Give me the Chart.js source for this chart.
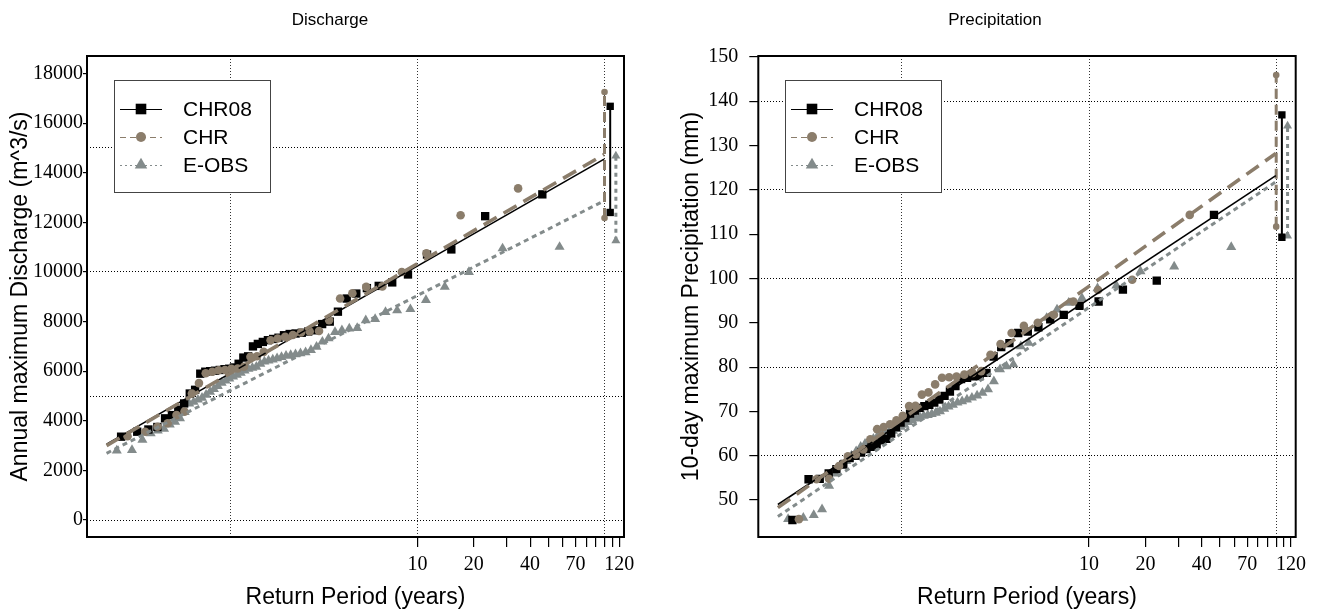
<!DOCTYPE html>
<html><head><meta charset="utf-8">
<script src="https://cdn.jsdelivr.net/npm/chart.js@4.4.0/dist/chart.umd.min.js"></script>
<style>
html,body{margin:0;padding:0;background:#fff;}
#wrap{position:relative;width:1320px;height:614px;overflow:hidden;}
.pane{position:absolute;top:0;width:660px;height:614px;}
</style></head><body>
<div id="wrap">
  <div class="pane" style="left:0"><canvas id="c1" width="660" height="614"></canvas></div>
  <div class="pane" style="left:660px"><canvas id="c2" width="660" height="614"></canvas></div>
</div>
<script>
// ---------- tick labels ----------
const returnPeriodTicks = [10, 20, 30, 40, 50, 60, 70, 80, 90, 100, 110, 120];
const returnPeriodTickLabels = ['10', '20', '', '40', '', '', '70', '', '', '', '', '120'];
const returnPeriodGridlines = [1, 10, 100];
const dischargeTicks = [0, 2000, 4000, 6000, 8000, 10000, 12000, 14000, 16000, 18000];
const dischargeGridlines = [0, 5000, 10000, 15000];
const precipTicks = [50, 60, 70, 80, 90, 100, 110, 120, 130, 140, 150];
const precipGridlines = [60, 80, 100, 120, 140];

// ---------- plotting positions (Gumbel reduced variate of each ranked year) ----------
const posCHR08 = [-1.3481,-1.1496,-1.0121,-0.9017,-0.8068,-0.7220,-0.6441,-0.5714,-0.5025,-0.4367,-0.3731,-0.3114,-0.2509,-0.1915,-0.1329,-0.0747,-0.0169,0.0410,0.0992,0.1573,0.2162,0.2756,0.3360,0.3973,0.4600,0.5241,0.5901,0.6578,0.7279,0.8007,0.8768,0.9560,1.0396,1.1276,1.2214,1.3220,1.4305,1.5483,1.6788,1.8245,1.9907,2.1848,2.4194,2.7187,3.1352,3.8393];
const posCHR = [-1.2684,-1.0516,-0.8989,-0.7743,-0.6657,-0.5673,-0.4759,-0.3893,-0.3061,-0.2254,-0.1463,-0.0681,0.0096,0.0874,0.1657,0.2449,0.3255,0.4080,0.4928,0.5805,0.6717,0.7672,0.8677,0.9747,1.0892,1.2131,1.3490,1.5000,1.6709,1.8698,2.1087,2.4124,2.8329,3.5409];
const posEOBS = [-1.4013,-1.2140,-1.0858,-0.9836,-0.8965,-0.8192,-0.7488,-0.6836,-0.6223,-0.5641,-0.5083,-0.4546,-0.4024,-0.3517,-0.3019,-0.2530,-0.2048,-0.1571,-0.1098,-0.0627,-0.0158,0.0311,0.0780,0.1251,0.1724,0.2203,0.2684,0.3171,0.3665,0.4167,0.4676,0.5197,0.5727,0.6272,0.6830,0.7404,0.7996,0.8609,0.9241,0.9900,1.0587,1.1307,1.2066,1.2863,1.3712,1.4619,1.5592,1.6649,1.7803,1.9079,2.0511,2.2145,2.4059,2.6383,2.9352,3.3497,4.0517];

// ---------- Discharge (m^3/s), sorted annual maxima ----------
const dischargeCHR08 = [3360,3560,3650,3750,4100,4230,4450,4700,5100,5250,5900,5980,6000,6020,6050,6080,6100,6150,6300,6550,6600,7000,7100,7180,7250,7300,7350,7450,7500,7520,7550,7600,7650,7900,8000,8400,8930,9130,9350,9440,9580,9900,10700,10910,12250,13130];
const dischargeCHR = [3380,3560,3760,3900,4230,4370,5100,5520,5920,5980,6040,6050,6100,6110,6180,6580,6600,6780,7250,7320,7390,7460,7560,7600,7620,8060,8930,9140,9400,9420,10000,10750,12290,13370];
const dischargeEOBS = [2800,2820,3230,3490,3610,3680,3850,3960,4100,4350,4690,4760,4850,4930,5050,5170,5280,5400,5530,5620,5700,5780,5850,5930,6020,6090,6140,6180,6300,6390,6430,6470,6520,6570,6620,6650,6680,6720,6760,6850,6980,7190,7320,7580,7650,7720,7740,8050,8100,8380,8450,8500,8870,9400,10000,10950,11010];

// ---------- 10-day maximum precipitation (mm), sorted ----------
const precipCHR08 = [45.5,54.7,54.8,56.0,57.0,58.0,59.5,60.0,60.7,61.5,62.0,62.6,63.5,63.8,65.0,66.5,67.5,68.5,69.5,70.2,70.8,71.2,71.5,72.0,72.7,73.5,74.5,75.7,77.3,77.6,77.9,78.0,78.7,82.4,84.5,85.4,87.7,88.0,89.0,90.8,91.8,93.85,94.8,97.5,99.5,114.35];
const precipCHR = [45.7,54.7,54.8,57.7,59.9,60.3,61.4,63.7,66.0,66.5,67.1,68.0,69.0,71.2,71.3,73.8,74.3,76.1,77.6,77.7,77.9,78.3,78.7,79.1,82.8,85.2,87.7,89.3,90.0,91.8,94.8,97.4,99.7,114.35];
const precipEOBS = [45.7,46.0,46.6,47.9,53.2,56.0,58.0,58.8,60.0,61.0,62.0,62.7,63.2,63.8,64.4,64.8,65.1,65.4,65.6,66.0,66.5,67.0,67.6,68.0,68.4,68.8,69.0,69.2,69.4,69.7,70.0,70.6,71.1,71.5,72.0,72.3,72.7,73.1,73.6,74.2,75.0,76.8,79.5,80.2,80.6,84.7,85.5,89.5,91.1,93.0,94.5,95.6,97.8,98.4,101.6,102.7,107.1];

// ---------- Gumbel fits (values at the two ends of the fitted line) ----------
const fitPos = [-1.527, 4.600];
const dischargeFitCHR08 = [3060, 14550];
const dischargeFitCHR = [3000, 14740];
const dischargeFitEOBS = [2690, 12870];
const precipFitCHR08 = [49.0, 123.2];
const precipFitCHR = [48.3, 128.2];
const precipFitEOBS = [46.3, 121.8];

// ---------- 100-year confidence intervals ----------
const ciPosCHR08 = 4.675, ciPosCHR = 4.605, ciPosEOBS = 4.745;
const dischargeCiCHR08 = [12400, 16680];
const dischargeCiCHR = [12180, 17260];
const dischargeCiEOBS = [11260, 14680];
const precipCiCHR08 = [109.3, 136.9];
const precipCiCHR = [111.7, 145.9];
const precipCiEOBS = [109.6, 134.4];

// ---------- styles ----------
const STY = {
  CHR08: {label:'CHR08', color:'#000000', dash:[], width:1.6, marker:'rect', r:5.9, legR:7.5, ciR:5.2, legDash:[], ciW:2, ciDash:[]},
  CHR:   {label:'CHR',   color:'#8B7D6B', dash:[15,8], width:3.6, marker:'circle', r:4.3, legR:5, ciR:3.3, legDash:[6,4], ciW:3, ciDash:[10,6]},
  EOBS:  {label:'E-OBS', color:'#838B8B', dash:[5,4], width:3, marker:'triangle', r:5.8, legR:7.2, ciR:5.2, legDash:[2,3], ciW:3, ciDash:[4,4]}
};
const XMIN = -1.768, XMAX = 4.845;

function xy(xs, ys) { return ys.map((y, i) => ({x: xs[i], y: y})); }

const frameLegend = {
  id: 'frameLegend',
  afterDatasetsDraw(chart) {
    const {ctx, chartArea: a} = chart;
    ctx.save();
    ctx.setLineDash([]);
    ctx.strokeStyle = '#000'; ctx.lineWidth = 2;
    ctx.strokeRect(a.left, a.top, a.right - a.left, a.bottom - a.top);
    ctx.restore();
  },
  afterDraw(chart) {
    const {ctx, chartArea: a} = chart;
    const x0 = Math.round(a.left + 27), y0 = Math.round(a.top + 24), w = 156, h = 112;
    ctx.save();
    ctx.fillStyle = '#fff'; ctx.fillRect(x0, y0, w, h);
    ctx.strokeStyle = '#444'; ctx.lineWidth = 1; ctx.setLineDash([]);
    ctx.strokeRect(x0 + 0.5, y0 + 0.5, w, h);
    ['CHR08', 'CHR', 'EOBS'].forEach((k, i) => {
      const s = STY[k];
      const y = y0 + 29 + i * 28;
      ctx.setLineDash(s.legDash); ctx.strokeStyle = s.color; ctx.lineWidth = 1.2;
      ctx.beginPath(); ctx.moveTo(x0 + 6, y + 0.5); ctx.lineTo(x0 + 48, y + 0.5); ctx.stroke();
      ctx.setLineDash([]);
      ctx.fillStyle = s.color;
      Chart.helpers.drawPoint(ctx, {pointStyle: s.marker, radius: s.legR, rotation: 0, borderWidth: 0}, x0 + 27, y);
      ctx.fillStyle = '#000'; ctx.font = '21px "Liberation Sans", Arial, sans-serif';
      ctx.textBaseline = 'middle'; ctx.textAlign = 'left';
      ctx.fillText(s.label, x0 + 69, y + 1);
    });
    ctx.restore();
  }
};

function makeChart(id, p) {
  const ser = [
    {k:'CHR',   pos:posCHR,   vals:p.chr,   fit:p.fitChr,   ci:p.ciChr,   ciX:ciPosCHR,   o:7},
    {k:'CHR08', pos:posCHR08, vals:p.chr08, fit:p.fitChr08, ci:p.ciChr08, ciX:ciPosCHR08, o:8},
    {k:'EOBS',  pos:posEOBS,  vals:p.eobs,  fit:p.fitEobs,  ci:p.ciEobs,  ciX:ciPosEOBS,  o:9}
  ];
  const datasets = [];
  ser.forEach((s, j) => {
    const st = STY[s.k];
    datasets.push({
      label: st.label + ' fit', data: xy(fitPos, s.fit), showLine: true,
      borderColor: st.color, borderWidth: st.width, borderDash: st.dash,
      pointRadius: 0, order: 1 + j
    });
    datasets.push({
      label: st.label + ' CI', data: xy([s.ciX, s.ciX], s.ci), showLine: true,
      borderColor: st.color, borderWidth: st.ciW, borderDash: st.ciDash,
      pointStyle: st.marker, pointRadius: st.ciR,
      pointBackgroundColor: st.color, pointBorderColor: st.color, pointBorderWidth: 0, order: 4 + j
    });
    datasets.push({
      label: st.label, data: xy(s.pos, s.vals), showLine: false,
      pointStyle: st.marker, pointRadius: st.r,
      pointBackgroundColor: st.color, pointBorderColor: st.color, pointBorderWidth: 0, order: s.o
    });
  });

  const serif = {family: '"Liberation Serif", "Times New Roman", serif', size: 20};
  const sans23 = {family: '"Liberation Sans", Arial, sans-serif', size: 23};
  return new Chart(document.getElementById(id), {
    type: 'scatter',
    data: {datasets},
    plugins: [frameLegend],
    options: {
      responsive: false, animation: false, devicePixelRatio: 1,
      layout: {padding: {left: p.padLeft, right: 0, top: 0, bottom: 0}},
      plugins: {
        legend: {display: false}, tooltip: {enabled: false},
        title: {display: true, text: p.title, color: '#000',
          font: {family: '"Liberation Sans", Arial, sans-serif', size: 17, weight: 'normal'},
          padding: {top: 9.8, bottom: 25.8}}
      },
      scales: {
        x: {
          type: 'linear', position: 'bottom', min: XMIN, max: XMAX,
          afterBuildTicks: sc => { sc.ticks = returnPeriodTicks.map(T => ({value: Math.log(T)})); },
          ticks: {autoSkip: false, maxRotation: 0, font: serif, color: '#000', padding: 6,
            callback: (v, i) => returnPeriodTickLabels[i]},
          grid: {drawOnChartArea: false, drawTicks: true, tickLength: 10, color: '#000', lineWidth: 1.2},
          border: {display: false},
          title: {display: true, text: 'Return Period (years)', color: '#000', font: sans23, padding: {top: 0, bottom: 3}},
          afterFit: sc => { sc.height = 77; }
        },
        xg: {
          type: 'linear', position: 'bottom', min: XMIN, max: XMAX,
          afterBuildTicks: sc => { sc.ticks = returnPeriodGridlines.map(T => ({value: Math.log(T)})); },
          ticks: {display: false},
          grid: {drawTicks: false, color: '#333', lineWidth: 1},
          border: {display: false, dash: [1, 2]},
          afterFit: sc => { sc.height = 0; }
        },
        y: {
          type: 'linear', position: 'left', min: p.ymin, max: p.ymax,
          afterBuildTicks: sc => { sc.ticks = p.ticks.map(v => ({value: v})); },
          ticks: {font: serif, color: '#000', padding: p.tickPad, callback: v => String(v)},
          grid: {drawOnChartArea: false, drawTicks: true, tickLength: p.tickLen, color: '#000', lineWidth: 1.2},
          border: {display: false},
          title: {display: true, text: p.ytitle, color: '#000', font: sans23, padding: {top: p.ytitlePad, bottom: 0}},
          afterFit: sc => { sc.width = p.yWidth; }
        },
        yg: {
          type: 'linear', position: 'left', min: p.ymin, max: p.ymax,
          afterBuildTicks: sc => { sc.ticks = p.grid.map(v => ({value: v})); },
          ticks: {display: false},
          grid: {drawTicks: false, color: '#000', lineWidth: 1},
          border: {display: false, dash: [1, 2]},
          afterFit: sc => { sc.width = 0; }
        },
        yr: {
          type: 'linear', position: 'right', min: 0, max: 1,
          ticks: {display: false}, grid: {display: false}, border: {display: false},
          afterFit: sc => { sc.width = p.rightSpace; }
        }
      }
    }
  });
}

makeChart('c1', {
  title: 'Discharge', ytitle: 'Annual maximum Discharge (m^3/s)',
  ymin: -685, ymax: 18709, ticks: dischargeTicks, grid: dischargeGridlines,
  chr08: dischargeCHR08, chr: dischargeCHR, eobs: dischargeEOBS,
  fitChr08: dischargeFitCHR08, fitChr: dischargeFitCHR, fitEobs: dischargeFitEOBS,
  ciChr08: dischargeCiCHR08, ciChr: dischargeCiCHR, ciEobs: dischargeCiEOBS,
  padLeft: 0, yWidth: 87, rightSpace: 36, tickLen: 4, tickPad: 0, ytitlePad: 7
});
makeChart('c2', {
  title: 'Precipitation', ytitle: '10-day maximum Precipitation (mm)',
  ymin: 41.67, ymax: 150.2, ticks: precipTicks, grid: precipGridlines,
  chr08: precipCHR08, chr: precipCHR, eobs: precipEOBS,
  fitChr08: precipFitCHR08, fitChr: precipFitCHR, fitEobs: precipFitEOBS,
  ciChr08: precipCiCHR08, ciChr: precipCiCHR, ciEobs: precipCiEOBS,
  padLeft: 10, yWidth: 88.3, rightSpace: 24.3, tickLen: 9, tickPad: 11, ytitlePad: 8
});
</script>
</body></html>
